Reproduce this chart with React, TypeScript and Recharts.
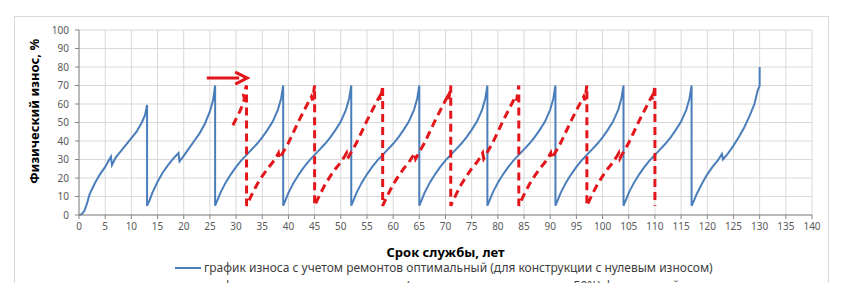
import React from "react";
import { LineChart, Line, XAxis, YAxis, CartesianGrid } from "recharts";

// blue: optimal repairs, zero initial wear
const blueYears = [
  0, 0.5, 1, 1.5, 2, 3, 4, 5, 5.9, 6.1, 6.3, 7, 8, 9, 10, 11, 12, 12.6, 13,
  13, 13.5, 14, 15, 16, 17, 18, 19, 19.2, 20, 21, 22, 23, 24, 25, 25.6, 26,
  26, 26.5, 27, 28, 29, 30, 31, 32, 33, 34, 35, 36, 37, 38, 38.6, 39,
  39, 39.5, 40, 41, 42, 43, 44, 45, 46, 47, 48, 49, 50, 51, 51.6, 52,
  52, 52.5, 53, 54, 55, 56, 57, 58, 59, 60, 61, 62, 63, 64, 64.6, 65,
  65, 65.5, 66, 67, 68, 69, 70, 71, 72, 73, 74, 75, 76, 77, 77.6, 78,
  78, 78.5, 79, 80, 81, 82, 83, 84, 85, 86, 87, 88, 89, 90, 90.6, 91,
  91, 91.5, 92, 93, 94, 95, 96, 97, 98, 99, 100, 101, 102, 103, 103.6, 104,
  104, 104.5, 105, 106, 107, 108, 109, 110, 111, 112, 113, 114, 115, 116, 116.6, 117,
  117, 117.5, 118, 119, 120, 121, 122, 122.8, 123, 124, 125, 126, 127, 128, 129, 129.6, 130, 130,
];
const blueWear = [
  0, 0.5, 2, 6, 11, 17, 22, 26, 30.5, 31.5, 27, 31, 34.5, 38, 41.5, 45, 50, 54, 59.5,
  5, 8, 12, 18, 23, 27, 30.5, 33.5, 29, 32, 36, 40, 44, 49, 56, 62, 70,
  5, 8.5, 12, 17.5, 22, 26, 29.5, 32.5, 35.5, 38.5, 42, 46, 50.5, 57, 63, 70,
  5, 8.5, 12, 17.5, 22, 26, 29.5, 32.5, 35.5, 38.5, 42, 46, 50.5, 57, 63, 70,
  5, 8.5, 12, 17.5, 22, 26, 29.5, 32.5, 35.5, 38.5, 42, 46, 50.5, 57, 63, 70,
  5, 8.5, 12, 17.5, 22, 26, 29.5, 32.5, 35.5, 38.5, 42, 46, 50.5, 57, 63, 70,
  5, 8.5, 12, 17.5, 22, 26, 29.5, 32.5, 35.5, 38.5, 42, 46, 50.5, 57, 63, 70,
  5, 8.5, 12, 17.5, 22, 26, 29.5, 32.5, 35.5, 38.5, 42, 46, 50.5, 57, 63, 70,
  5, 8.5, 12, 17.5, 22, 26, 29.5, 32.5, 35.5, 38.5, 42, 46, 50.5, 57, 63, 70,
  5, 8, 11.5, 17, 22, 26, 29.5, 33, 30, 33.5, 37.5, 42, 47, 53, 60, 67, 70, 80,
];

// red dashed: repairs for the structure with accumulated wear
const redYears = [
  29.4, 30.8, 31.3, 31.6, 31.4, 32,
  32, 32.5, 33, 34, 35, 36, 37, 37.8, 38.1, 38.3, 39, 40, 41, 42, 43, 44, 44.4, 44.6, 45,
  45, 45.5, 46, 47, 48, 49, 50, 50.8, 51.1, 51.3, 52, 53, 54, 55, 56, 57, 57.4, 57.6, 58,
  58, 58.5, 59, 60, 61, 62, 63, 63.8, 64.1, 64.3, 65, 66, 67, 68, 69, 70, 70.4, 70.6, 71,
  71, 71.5, 72, 73, 74, 75, 76, 76.8, 77.1, 77.3, 78, 79, 80, 81, 82, 83, 83.4, 83.6, 84,
  84, 84.5, 85, 86, 87, 88, 89, 89.8, 90.1, 90.3, 91, 92, 93, 94, 95, 96, 96.4, 96.6, 97,
  97, 97.5, 98, 99, 100, 101, 102, 102.8, 103.1, 103.3, 104, 105, 106, 107, 108, 109, 109.4, 109.6, 110,
  110,
];
const redWear = [
  48.5, 56.5, 60, 63, 65, 70,
  5, 8, 11, 16.5, 21, 25, 28.5, 32, 33.5, 30.5, 34, 39, 45, 51, 56.5, 62, 64, 62, 70,
  5, 8, 11, 16.5, 21, 25, 28.5, 32, 33.5, 30.5, 34, 39, 45, 51, 56.5, 62, 64, 62, 70,
  5, 8, 11, 16.5, 21, 25, 28.5, 32, 33.5, 30.5, 34, 39, 45, 51, 56.5, 62, 64, 62, 70,
  5, 8, 11, 16.5, 21, 25, 28.5, 32, 33.5, 30.5, 34, 39, 45, 51, 56.5, 62, 64, 62, 70,
  5, 8, 11, 16.5, 21, 25, 28.5, 32, 33.5, 30.5, 34, 39, 45, 51, 56.5, 62, 64, 62, 70,
  5, 8, 11, 16.5, 21, 25, 28.5, 32, 33.5, 30.5, 34, 39, 45, 51, 56.5, 62, 64, 62, 70,
  5, 8, 11, 16.5, 21, 25, 28.5, 32, 33.5, 30.5, 34, 39, 45, 51, 56.5, 62, 64, 62, 70,
  4,
];

// the red arrow above the first red drop
const arrowYears = [24.4, 30.6];
const arrowWear = [74, 74];

const xTicks = [0, 5, 10, 15, 20, 25, 30, 35, 40, 45, 50, 55, 60, 65, 70, 75, 80, 85, 90, 95, 100, 105, 110, 115, 120, 125, 130, 135, 140];
const yTicks = [0, 10, 20, 30, 40, 50, 60, 70, 80, 90, 100];

const legendItems = [
  "график износа с учетом ремонтов оптимальный (для конструкции с нулевым износом)",
  "график износа с учетом ремонтов (для конструкции с износом 50%) фактический",
];

const BLUE = "#4a7ebb";
const RED = "#e3171b";
const FONT = "'Noto Sans', sans-serif";

const toPoints = (xs: number[], ys: number[]) => xs.map((x, i) => ({ x, y: ys[i] }));

const ArrowHead = (props: any) => {
  const { cx, cy, index } = props;
  if (index !== arrowYears.length - 1) return <g key={index} />;
  return (
    <polyline
      key={index}
      points={`${cx - 4},${cy - 6} ${cx + 8},${cy} ${cx - 4},${cy + 6}`}
      fill="none"
      stroke={RED}
      strokeWidth={3}
    />
  );
};

export default function App() {
  const tick = { fill: "#595959", fontSize: 10, fontFamily: FONT };
  return (
    <div style={{ position: "absolute", left: 0, top: 0, width: 850, height: 283, overflow: "hidden", background: "#fff" }}>
      {/* outer chart frame */}
      <div style={{ position: "absolute", left: 14, top: 16, width: 813, height: 300, border: "1px solid #d9d9d9" }} />
      <LineChart width={850} height={283} margin={{ top: 30, right: 38, left: 0, bottom: 0 }}>
        <CartesianGrid stroke="#d9d9d9" />
        <XAxis
          type="number"
          dataKey="x"
          domain={[0, 140]}
          ticks={xTicks}
          interval={0}
          height={68}
          tick={tick}
          tickSize={4}
          tickMargin={4}
          stroke="#868686"
          label={{
            value: "Срок службы, лет",
            position: "center",
            dy: 3,
            style: { fill: "#000", fontSize: 13, fontWeight: 700, fontFamily: FONT },
          }}
        />
        <YAxis
          type="number"
          dataKey="y"
          domain={[0, 100]}
          ticks={yTicks}
          interval={0}
          width={79}
          tick={tick}
          tickSize={4}
          tickMargin={6}
          stroke="#868686"
          label={{
            value: "Физический износ, %",
            angle: -90,
            position: "center",
            dx: -5,
            dy: -11,
            style: { fill: "#000", fontSize: 13, fontWeight: 700, fontFamily: FONT, textAnchor: "middle" },
          }}
        />
        <Line
          data={toPoints(blueYears, blueWear)}
          dataKey="y"
          type="linear"
          stroke={BLUE}
          strokeWidth={2}
          dot={false}
          isAnimationActive={false}
        />
        <Line
          data={toPoints(redYears, redWear)}
          dataKey="y"
          type="linear"
          stroke={RED}
          strokeWidth={3}
          strokeDasharray="8 5"
          dot={false}
          isAnimationActive={false}
        />
        <Line
          data={toPoints(arrowYears, arrowWear)}
          dataKey="y"
          type="linear"
          stroke={RED}
          strokeWidth={3}
          dot={ArrowHead}
          isAnimationActive={false}
        />
      </LineChart>
      {/* legend */}
      {legendItems.map((label, i) => (
        <div
          key={label}
          style={{
            position: "absolute",
            left: 175,
            top: 260 + i * 18,
            display: "flex",
            alignItems: "center",
            fontFamily: FONT,
            fontSize: 12,
            color: "#404040",
            whiteSpace: "nowrap",
            lineHeight: "16px",
          }}
        >
          <svg width={26} height={8} style={{ marginRight: 3 }}>
            <line
              x1={0}
              y1={4}
              x2={26}
              y2={4}
              stroke={i === 0 ? BLUE : RED}
              strokeWidth={i === 0 ? 2 : 3}
              strokeDasharray={i === 0 ? undefined : "8 4"}
            />
          </svg>
          {label}
        </div>
      ))}
    </div>
  );
}
